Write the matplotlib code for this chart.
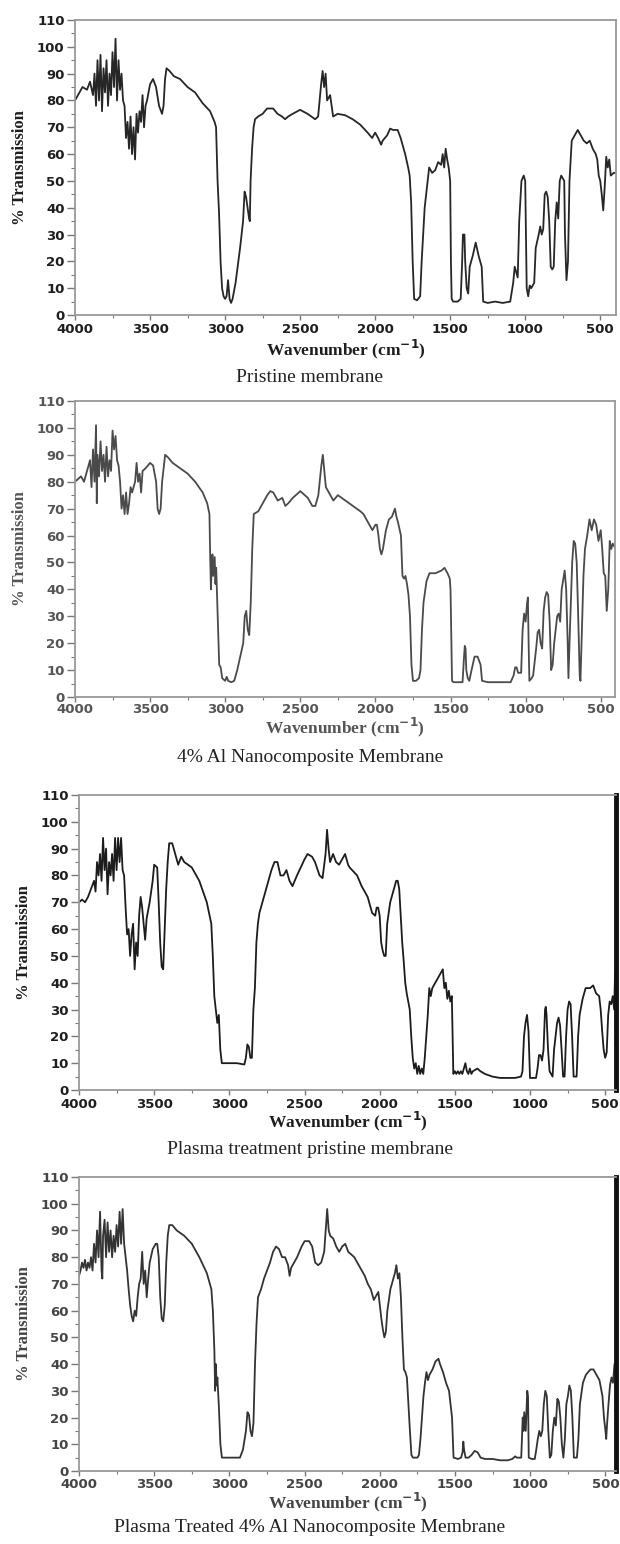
import matplotlib
matplotlib.use('Agg')
import matplotlib.pyplot as plt
from matplotlib.ticker import MultipleLocator

# ---------------- data (wavenumber cm-1, % transmission) ----------------
pristine = [
    (4000, 80), (3980, 82), (3950, 85), (3920, 84), (3900, 87), (3880, 82), (3870, 90), (3860, 78),
    (3850, 95), (3840, 80), (3830, 97), (3820, 76), (3810, 92), (3800, 83), (3790, 95), (3780, 78),
    (3770, 90), (3760, 82), (3750, 98), (3740, 85), (3730, 103), (3720, 80), (3710, 95), (3700, 84),
    (3690, 90), (3680, 80), (3670, 78), (3660, 66), (3650, 72), (3640, 62), (3630, 74), (3620, 60),
    (3610, 70), (3600, 58), (3590, 75), (3580, 68), (3570, 76), (3560, 72), (3550, 82), (3540, 70),
    (3530, 78), (3520, 80), (3500, 86), (3480, 88), (3460, 85), (3440, 78), (3420, 75), (3410, 78),
    (3400, 88), (3390, 92), (3370, 91), (3340, 89), (3300, 88), (3250, 85), (3200, 83), (3150, 79),
    (3100, 76), (3070, 72), (3060, 70), (3050, 50), (3040, 38), (3030, 20), (3020, 10), (3010, 7),
    (3000, 6), (2990, 7), (2980, 13), (2970, 6), (2960, 4.5), (2950, 6), (2930, 12), (2900, 25),
    (2880, 35), (2870, 46), (2860, 44), (2850, 40), (2840, 36), (2835, 35), (2830, 50), (2820, 62),
    (2810, 70), (2800, 73), (2780, 74), (2750, 75), (2720, 77), (2680, 77), (2650, 75), (2620, 74),
    (2600, 73), (2580, 74), (2550, 75), (2500, 76.5), (2450, 75), (2400, 73), (2380, 74), (2360, 86),
    (2350, 91), (2340, 85), (2330, 90), (2320, 80), (2300, 82), (2280, 74), (2250, 75), (2200, 74.5),
    (2150, 73), (2100, 71), (2050, 68), (2020, 66), (2000, 68), (1980, 66), (1960, 63.5), (1950, 65),
    (1920, 67), (1900, 69.5), (1880, 69), (1850, 69), (1830, 66), (1800, 60), (1780, 55), (1770, 52),
    (1760, 42), (1750, 20), (1740, 6), (1720, 5.5), (1700, 7), (1690, 20), (1680, 30), (1670, 40),
    (1650, 50), (1640, 55), (1620, 53), (1600, 54), (1580, 57), (1560, 56), (1550, 60), (1540, 55),
    (1530, 62), (1520, 58), (1510, 55), (1500, 50), (1495, 20), (1490, 6), (1480, 5), (1450, 5),
    (1430, 6), (1420, 20), (1415, 30), (1405, 30), (1400, 20), (1390, 10), (1380, 8), (1370, 18),
    (1350, 22), (1330, 27), (1310, 22), (1290, 18), (1280, 5), (1250, 4.5), (1200, 5), (1150, 4.5),
    (1100, 5), (1080, 12), (1070, 18), (1060, 16), (1050, 14), (1040, 35), (1025, 50), (1010, 52),
    (1000, 50), (990, 10), (980, 7), (970, 11), (960, 10), (940, 12), (930, 25), (910, 30),
    (900, 33), (890, 30), (880, 32), (870, 45), (860, 46), (850, 44), (840, 35), (830, 18),
    (820, 17), (810, 18), (800, 35), (790, 42), (780, 36), (770, 50), (760, 52), (740, 50),
    (735, 30), (725, 13), (715, 20), (705, 50), (690, 65), (670, 67), (650, 69), (630, 67),
    (610, 65), (590, 64), (570, 65), (550, 62), (530, 60), (520, 58), (510, 52), (500, 50),
    (490, 45), (480, 39), (470, 48), (460, 59), (450, 55), (440, 58), (430, 52), (410, 53), (400, 53),
]

al4 = [
    (4000, 80), (3980, 81), (3960, 82), (3940, 80), (3920, 84), (3900, 88), (3890, 78), (3880, 92),
    (3870, 80), (3860, 101), (3855, 72), (3850, 90), (3840, 82), (3830, 95), (3820, 84), (3810, 90),
    (3800, 80), (3790, 93), (3780, 82), (3770, 88), (3760, 84), (3750, 99), (3740, 92), (3730, 97),
    (3720, 88), (3710, 86), (3700, 80), (3690, 70), (3680, 75), (3670, 68), (3660, 76), (3650, 68),
    (3640, 72), (3630, 78), (3620, 76), (3600, 80), (3590, 87), (3580, 80), (3570, 83), (3560, 76),
    (3550, 84), (3530, 85), (3500, 87), (3480, 86), (3460, 80), (3450, 70), (3440, 68), (3430, 70),
    (3420, 80), (3410, 85), (3400, 90), (3380, 89), (3350, 87), (3300, 85), (3250, 83), (3200, 80),
    (3150, 76), (3120, 72), (3105, 68), (3100, 52), (3095, 40), (3090, 48), (3085, 53), (3080, 45),
    (3070, 52), (3065, 42), (3060, 48), (3050, 30), (3040, 12), (3030, 11), (3020, 7), (3000, 6),
    (2990, 7.5), (2980, 6), (2960, 5.5), (2940, 6), (2920, 10), (2900, 15), (2880, 20), (2870, 30),
    (2860, 32), (2850, 25), (2840, 23), (2830, 35), (2820, 55), (2810, 68), (2780, 69), (2750, 72),
    (2720, 75), (2700, 76.5), (2680, 76), (2650, 73), (2620, 74), (2600, 71), (2580, 72), (2550, 74),
    (2500, 76.5), (2470, 75), (2450, 74), (2420, 71), (2400, 71), (2380, 75), (2360, 86), (2350, 90),
    (2340, 84), (2330, 78), (2300, 75), (2280, 73), (2250, 75), (2200, 73), (2150, 71), (2100, 69),
    (2080, 68), (2050, 65), (2020, 62), (2000, 64), (1990, 64), (1980, 60), (1970, 55), (1960, 53),
    (1950, 55), (1930, 62), (1910, 66), (1890, 67), (1870, 70), (1860, 67), (1850, 65), (1830, 60),
    (1820, 45), (1810, 44), (1800, 45), (1790, 42), (1780, 38), (1770, 30), (1760, 12), (1750, 6),
    (1730, 6), (1710, 7), (1700, 10), (1690, 25), (1680, 35), (1660, 43), (1640, 46), (1600, 46),
    (1560, 47), (1540, 48), (1520, 46), (1505, 44), (1500, 40), (1490, 6), (1480, 5.5), (1450, 5.5),
    (1420, 5.5), (1410, 15), (1405, 19), (1400, 18), (1395, 10), (1385, 7), (1375, 6), (1360, 10),
    (1340, 15), (1320, 15), (1300, 12), (1290, 6), (1250, 5.5), (1200, 5.5), (1100, 5.5), (1080, 8),
    (1070, 11), (1060, 11), (1050, 9), (1030, 9), (1020, 25), (1010, 31), (1000, 28), (990, 35),
    (985, 37), (980, 20), (975, 6), (960, 7), (950, 8), (940, 13), (930, 18), (920, 24),
    (910, 25), (900, 20), (890, 18), (880, 32), (870, 37), (860, 39), (850, 38), (840, 28),
    (830, 10), (820, 12), (810, 20), (800, 25), (790, 30), (780, 31), (770, 28), (760, 40),
    (740, 47), (730, 40), (720, 20), (715, 7), (705, 25), (690, 50), (680, 58), (670, 57),
    (660, 50), (650, 30), (640, 8), (635, 6), (625, 25), (615, 45), (605, 55), (590, 60),
    (575, 66), (560, 62), (545, 66), (530, 64), (515, 58), (500, 62), (490, 55), (480, 46),
    (470, 45), (460, 32), (450, 40), (440, 58), (430, 55), (420, 57), (400, 55),
]

plasma_pristine = [
    (4000, 70), (3980, 71), (3960, 70), (3940, 72), (3920, 75), (3900, 78), (3890, 74), (3880, 85),
    (3870, 80), (3860, 88), (3850, 78), (3840, 94), (3830, 82), (3820, 90), (3810, 73), (3800, 85),
    (3790, 80), (3780, 88), (3770, 78), (3760, 94), (3750, 82), (3740, 94), (3730, 85), (3720, 94),
    (3710, 82), (3700, 80), (3690, 68), (3680, 58), (3670, 60), (3660, 50), (3650, 58), (3640, 62),
    (3630, 45), (3620, 55), (3610, 50), (3600, 65), (3590, 72), (3580, 68), (3570, 62), (3560, 56),
    (3550, 64), (3530, 70), (3510, 78), (3500, 84), (3480, 83), (3470, 70), (3460, 55), (3450, 46),
    (3440, 45), (3430, 60), (3420, 75), (3410, 85), (3400, 92), (3380, 92), (3360, 88), (3340, 84),
    (3320, 87), (3300, 85), (3250, 83), (3200, 78), (3150, 70), (3120, 62), (3110, 50), (3100, 35),
    (3090, 30), (3080, 25), (3070, 28), (3060, 15), (3050, 10), (3000, 10), (2950, 10), (2900, 9.5),
    (2890, 12), (2880, 17), (2870, 16), (2860, 12), (2850, 12), (2840, 30), (2830, 38), (2820, 55),
    (2810, 62), (2800, 66), (2780, 70), (2750, 76), (2720, 82), (2700, 85), (2680, 85), (2660, 80),
    (2640, 80), (2620, 82), (2600, 78), (2580, 76), (2550, 80), (2500, 86), (2480, 88), (2450, 87),
    (2430, 85), (2400, 80), (2380, 79), (2360, 88), (2350, 97), (2340, 90), (2330, 85), (2310, 88),
    (2290, 85), (2270, 84), (2250, 86), (2230, 88), (2210, 84), (2200, 83), (2150, 80), (2120, 76),
    (2100, 74), (2080, 72), (2050, 66), (2030, 65), (2020, 68), (2010, 68), (2000, 65), (1990, 55),
    (1980, 52), (1970, 50), (1960, 50), (1950, 62), (1930, 70), (1910, 74), (1890, 78), (1880, 78),
    (1870, 75), (1860, 65), (1850, 55), (1840, 48), (1830, 40), (1820, 36), (1800, 30), (1790, 20),
    (1780, 12), (1770, 8), (1760, 10), (1750, 6), (1740, 9), (1730, 6), (1720, 8), (1710, 6),
    (1700, 12), (1690, 20), (1680, 28), (1670, 38), (1660, 35), (1650, 38), (1630, 40), (1610, 42),
    (1590, 44), (1580, 45), (1570, 38), (1560, 40), (1550, 34), (1540, 37), (1530, 33), (1520, 35),
    (1515, 20), (1510, 6), (1500, 7), (1490, 6), (1480, 7), (1470, 6), (1460, 7), (1450, 6),
    (1440, 8), (1430, 10), (1420, 7), (1410, 6), (1400, 8), (1390, 6), (1380, 7), (1350, 8),
    (1330, 7), (1300, 6), (1250, 5), (1200, 4.5), (1150, 4.5), (1100, 4.5), (1060, 5), (1050, 7),
    (1040, 20), (1030, 25), (1020, 28), (1010, 22), (1000, 4.5), (990, 4.5), (960, 4.5), (950, 8),
    (940, 13), (930, 13), (920, 11), (910, 15), (900, 30), (895, 31), (890, 28), (880, 15),
    (870, 7), (860, 6), (850, 5), (840, 15), (830, 20), (820, 25), (810, 27), (800, 24),
    (790, 15), (780, 5), (770, 5), (760, 20), (750, 30), (740, 33), (730, 32), (720, 20),
    (710, 5), (690, 5), (680, 20), (670, 28), (650, 34), (630, 38), (600, 38), (580, 39),
    (560, 36), (540, 35), (530, 30), (520, 22), (510, 15), (500, 12), (490, 14), (480, 28),
    (470, 33), (460, 32), (450, 35), (440, 30), (435, 42), (430, 44),
]

plasma_al4 = [
    (4000, 73), (3990, 75), (3980, 78), (3970, 76), (3960, 79), (3950, 75), (3940, 78), (3930, 76),
    (3920, 80), (3910, 75), (3900, 85), (3890, 78), (3880, 90), (3870, 80), (3860, 97), (3850, 75),
    (3845, 72), (3840, 88), (3830, 94), (3820, 80), (3810, 93), (3800, 82), (3790, 90), (3780, 80),
    (3770, 88), (3760, 82), (3750, 92), (3740, 84), (3730, 97), (3720, 85), (3710, 98), (3700, 85),
    (3690, 80), (3680, 75), (3670, 68), (3660, 62), (3650, 58), (3640, 56), (3630, 60), (3620, 58),
    (3610, 65), (3600, 70), (3590, 72), (3580, 82), (3570, 70), (3560, 75), (3550, 65), (3540, 72),
    (3530, 78), (3510, 83), (3490, 85), (3480, 85), (3470, 80), (3460, 65), (3450, 57), (3440, 56),
    (3430, 62), (3420, 78), (3410, 88), (3400, 92), (3380, 92), (3350, 90), (3300, 88), (3250, 85),
    (3200, 80), (3150, 74), (3120, 68), (3110, 60), (3100, 45), (3095, 30), (3090, 40), (3085, 32),
    (3080, 35), (3070, 24), (3060, 10), (3050, 5), (3000, 5), (2950, 5), (2930, 5), (2910, 8),
    (2890, 15), (2880, 22), (2870, 21), (2860, 15), (2850, 13), (2840, 18), (2830, 40), (2820, 55),
    (2810, 65), (2790, 68), (2770, 72), (2750, 75), (2730, 78), (2710, 82), (2690, 84), (2670, 83),
    (2650, 80), (2630, 80), (2610, 77), (2600, 73), (2590, 76), (2570, 78), (2550, 80), (2520, 84),
    (2500, 86), (2470, 86), (2450, 84), (2430, 78), (2410, 77), (2390, 78), (2370, 82), (2360, 90),
    (2350, 98), (2340, 90), (2330, 88), (2310, 87), (2290, 84), (2270, 82), (2250, 84), (2230, 85),
    (2210, 82), (2190, 81), (2170, 80), (2150, 78), (2120, 75), (2100, 73), (2080, 70), (2060, 68),
    (2040, 64), (2020, 66), (2010, 67), (2000, 62), (1990, 57), (1980, 53), (1970, 50), (1960, 52),
    (1950, 60), (1930, 68), (1910, 72), (1900, 74), (1890, 77), (1880, 72), (1870, 74), (1860, 65),
    (1850, 50), (1840, 38), (1830, 37), (1820, 35), (1810, 25), (1800, 15), (1790, 6), (1780, 5),
    (1750, 5), (1740, 6), (1730, 12), (1720, 20), (1710, 28), (1700, 33), (1690, 37), (1680, 34),
    (1670, 36), (1650, 38), (1630, 41), (1610, 42), (1600, 40), (1580, 37), (1560, 33), (1540, 30),
    (1530, 25), (1520, 20), (1510, 5), (1480, 4.5), (1460, 5), (1450, 7), (1445, 11), (1440, 8),
    (1430, 5), (1410, 5), (1390, 6), (1370, 7.5), (1350, 7), (1330, 5), (1300, 4.5), (1250, 4.5),
    (1200, 4), (1150, 4), (1120, 4.5), (1100, 5.5), (1090, 5), (1070, 5), (1060, 5), (1050, 20),
    (1045, 15), (1040, 22), (1030, 15), (1020, 30), (1015, 28), (1010, 5), (990, 4.5), (970, 4.5),
    (960, 8), (950, 12), (940, 15), (930, 13), (920, 15), (910, 25), (900, 30), (890, 28),
    (880, 15), (870, 5), (860, 6), (850, 15), (840, 20), (830, 17), (820, 27), (810, 26),
    (800, 20), (790, 10), (780, 5), (770, 12), (760, 25), (750, 28), (740, 32), (730, 30),
    (720, 20), (710, 5), (690, 5), (680, 12), (670, 25), (650, 33), (630, 36), (600, 38),
    (580, 38), (560, 36), (540, 34), (520, 28), (510, 20), (500, 15), (495, 12), (490, 17),
    (480, 25), (470, 32), (460, 35), (450, 33), (440, 40), (430, 38), (420, 30), (410, 20),
]

captions = ["Pristine membrane", "4% Al Nanocomposite Membrane",
            "Plasma treatment pristine membrane", "Plasma Treated 4% Al Nanocomposite Membrane"]
x_ticks = [4000, 3500, 3000, 2500, 2000, 1500, 1000, 500]
y_ticks = [0, 10, 20, 30, 40, 50, 60, 70, 80, 90, 100, 110]

# ---------------- layout ----------------
W, H = 620, 1544
fig = plt.figure(figsize=(W / 100, H / 100), dpi=100)
fig.patch.set_facecolor('white')

# (left, right, top, bottom, xmax_right, caption_y, xlabel_y, ylabel_x, xtick_pad,
#  line colour, text colour, heavy right spine)
layout = [
    (75, 616, 20, 315, 395, 378, 349, 20, 2.0, '#262626', '#1e1e1e', False),
    (75, 615, 401, 697, 405, 758, 727, 20, 0.6, '#4a4a4a', '#555555', False),
    (79, 616, 795, 1090, 428, 1150, 1121, 24, 2.0, '#1c1c1c', '#1e1e1e', True),
    (79, 616, 1177, 1471, 430, 1527, 1502, 24, 1.2, '#333333', '#444444', True),
]
series = [pristine, al4, plasma_pristine, plasma_al4]

for data, cap, (l, r, t, b, xr, cy, xly, ylx, xpad, lc, tc, heavy) in zip(series, captions, layout):
    ax = fig.add_axes([l / W, 1 - b / H, (r - l) / W, (b - t) / H])
    wn = [p[0] for p in data]
    tr = [p[1] for p in data]
    ax.plot(wn, tr, color=lc, lw=1.3)
    ax.set_xlim(4000, xr)
    ax.set_ylim(0, 110)
    ax.set_xticks(x_ticks)
    ax.set_yticks(y_ticks)
    ax.xaxis.set_minor_locator(MultipleLocator(250))
    ax.yaxis.set_minor_locator(MultipleLocator(5))
    ax.tick_params(axis='x', which='major', direction='out', length=3.5, width=1.0,
                   color='#777777', pad=xpad, labelsize=9.5, labelcolor=tc)
    ax.tick_params(axis='x', which='minor', direction='out', length=2, width=0.8, color='#777777')
    ax.tick_params(axis='y', which='major', direction='out', length=6, width=1.0,
                   color='#777777', pad=1.5, labelsize=9.5, labelcolor=tc)
    ax.tick_params(axis='y', which='minor', direction='out', length=3, width=0.8, color='#777777')
    for lab in ax.get_xticklabels() + ax.get_yticklabels():
        lab.set_fontfamily('DejaVu Sans')
        lab.set_fontweight('bold')
    for side in ['top', 'left', 'bottom', 'right']:
        ax.spines[side].set_color('#999999')
        ax.spines[side].set_linewidth(1.3)
    if heavy:
        ax.spines['right'].set_color('#111111')
        ax.spines['right'].set_linewidth(3.5)
    ax.set_xlabel('Wavenumber (cm$^{\\mathbf{-1}}$)', fontfamily='Liberation Serif',
                  fontweight='bold', fontsize=12.5, color=tc, va='center')
    ax.xaxis.set_label_coords(0.5, (b - xly) / (b - t))
    ax.set_ylabel('% Transmission', fontfamily='Liberation Serif', fontweight='bold',
                  fontsize=12, color=tc, va='center')
    ax.yaxis.set_label_coords((ylx - l) / (r - l), 0.5)
    fig.text(310 / W, 1 - cy / H, cap, ha='center', va='center',
             fontfamily='Liberation Serif', fontsize=14, color='#222222')

fig.savefig('out.png', dpi=100, facecolor='white')
